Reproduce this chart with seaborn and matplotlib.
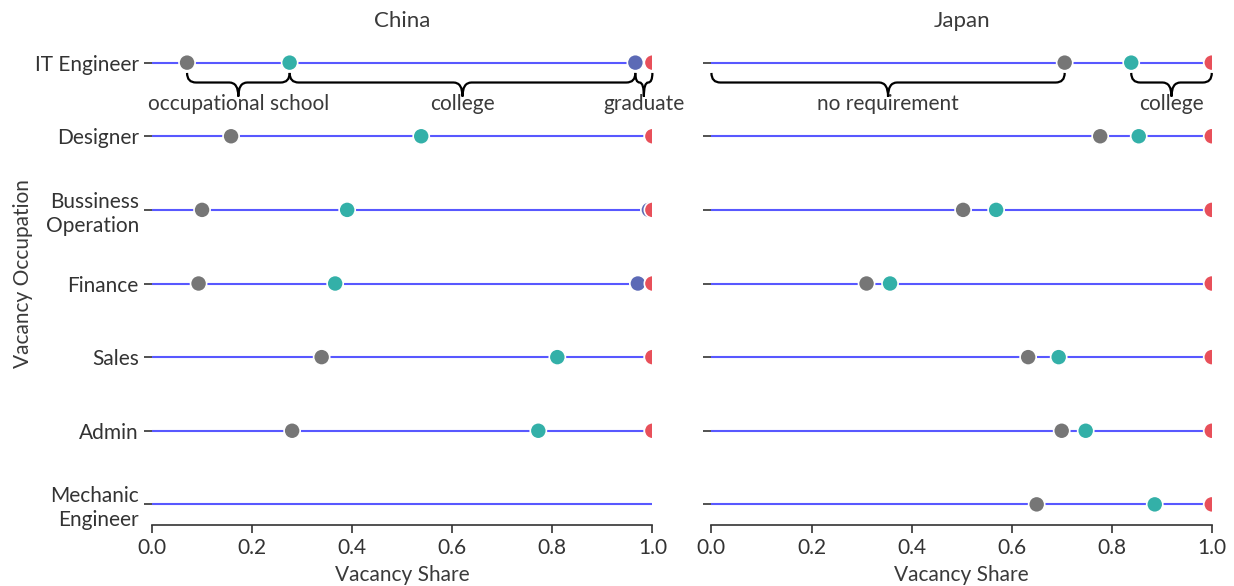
import numpy as np
import pandas as pd
import seaborn as sns
import matplotlib.pyplot as plt
from matplotlib.path import Path
from matplotlib.patches import PathPatch

# ---------------- data ----------------
occupations = ["IT Engineer", "Designer", "Bussiness\nOperation", "Finance",
               "Sales", "Admin", "Mechanic\nEngineer"]
levels = ["no requirement", "occupational school", "college", "graduate"]
level_colors = ["#767676", "#33b0a8", "#5c6ab6", "#e8505a"]
countries = ["China", "Japan"]

# cumulative vacancy share at the end of each education requirement
china_no_req = [0.070, 0.158, 0.100, 0.093, 0.339, 0.280, np.nan]
china_occ_school = [0.275, 0.538, 0.390, 0.366, 0.810, 0.772, np.nan]
china_college = [0.966, 1.000, 0.993, 0.971, 1.000, 1.000, np.nan]
china_graduate = [1.0, 1.0, 1.0, 1.0, 1.0, 1.0, np.nan]

japan_no_req = [0.706, 0.777, 0.503, 0.310, 0.633, 0.700, 0.650]
japan_occ_school = [0.839, 0.854, 0.569, 0.357, 0.694, 0.748, 0.886]
japan_college = [1.0, 1.0, 1.0, 1.0, 1.0, 1.0, 1.0]
japan_graduate = [1.0, 1.0, 1.0, 1.0, 1.0, 1.0, 1.0]

line_start = [0.0] * len(occupations)
line_end = [1.0] * len(occupations)

series = {
    "China": [china_no_req, china_occ_school, china_college, china_graduate],
    "Japan": [japan_no_req, japan_occ_school, japan_college, japan_graduate],
}

rows = []
for c in countries:
    for lvl, vals in zip(levels, series[c]):
        for occ, v in zip(occupations, vals):
            rows.append({"country": c, "occupation": occ, "level": lvl, "share": v})
df = pd.DataFrame(rows).dropna()

# brace annotations on the first row: (start, end, label)
braces = {
    "China": [(china_no_req[0], china_occ_school[0], "occupational school"),
              (china_occ_school[0], china_college[0], "college"),
              (china_college[0], china_graduate[0], "graduate")],
    "Japan": [(0.0, japan_no_req[0], "no requirement"),
              (japan_occ_school[0], japan_college[0], "college")],
}

# ---------------- style ----------------
sns.set_style("ticks")
plt.rcParams["font.family"] = ["Lato", "DejaVu Sans"]
text_color = "#3a3a3a"
plt.rcParams.update({
    "text.color": text_color,
    "axes.labelcolor": text_color,
    "xtick.color": "#333333",
    "ytick.color": "#333333",
    "axes.edgecolor": "#333333",
})
FS = 15

fig, axes = plt.subplots(1, 2, figsize=(12.34, 5.86), dpi=100, sharey=False)
fig.subplots_adjust(left=0.1232, right=0.982, bottom=0.1041, top=0.9283, wspace=0.118)


def draw_brace(ax, x0, x1, y, r=0.018):
    r = min(r, (x1 - x0) / 4)
    ytop, yh, ytip = y + 0.14, y + 0.27, y + 0.46
    xm = (x0 + x1) / 2
    verts = [(x0, ytop), (x0, yh), (x0 + r, yh),
             (xm - r, yh), (xm, yh), (xm, ytip),
             (xm, yh), (xm + r, yh),
             (x1 - r, yh), (x1, yh), (x1, ytop)]
    codes = [Path.MOVETO, Path.CURVE3, Path.CURVE3,
             Path.LINETO, Path.CURVE3, Path.CURVE3,
             Path.CURVE3, Path.CURVE3,
             Path.LINETO, Path.CURVE3, Path.CURVE3]
    patch = PathPatch(Path(verts, codes), facecolor="none", edgecolor="black",
                      lw=1.6, clip_on=False, zorder=4)
    ax.add_patch(patch)
    return xm, y + 0.56


for ax, c in zip(axes, countries):
    sub = df[df["country"] == c]
    ypos = np.arange(len(occupations))
    ax.hlines(ypos, line_start, line_end, color="#5858ff", lw=1.5, zorder=1)
    sns.stripplot(data=sub, x="share", y="occupation", hue="level",
                  order=occupations, hue_order=levels, palette=level_colors,
                  jitter=False, dodge=False, size=11.6, linewidth=1.2,
                  edgecolor="white", legend=False, ax=ax, zorder=3)
    for x0, x1, lab in braces[c]:
        xm, yt = draw_brace(ax, x0, x1, 0)
        ax.text(xm, yt, lab, ha="center", va="center", fontsize=FS, color=text_color)
    ax.set_xlim(0, 1)
    ax.set_ylim(6.28, -0.28)
    ax.set_yticks(ypos)
    ax.set_title(c, fontsize=16, pad=11, color=text_color)
    ax.set_xlabel("Vacancy Share", fontsize=FS, labelpad=5)
    ax.set_xticks([0, 0.2, 0.4, 0.6, 0.8, 1.0])
    ax.set_xticklabels(["0.0", "0.2", "0.4", "0.6", "0.8", "1.0"])
    ax.tick_params(axis="x", labelsize=FS, length=6, width=1.2)
    ax.tick_params(axis="y", labelsize=FS, length=6, width=1.2)
    sns.despine(ax=ax, left=True)
    ax.spines["bottom"].set_linewidth(1.2)

axes[0].set_yticklabels(occupations, linespacing=1.25)
axes[0].set_ylabel("Vacancy Occupation", fontsize=FS)
axes[0].yaxis.set_label_coords(-0.238, 0.52)
axes[1].set_yticklabels([])
axes[1].set_ylabel("")

fig.savefig("out.png", dpi=100)
